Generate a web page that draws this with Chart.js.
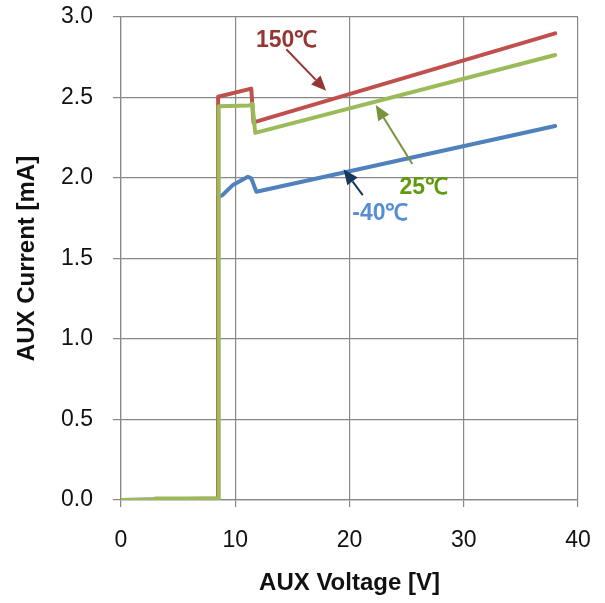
<!DOCTYPE html>
<html>
<head>
<meta charset="utf-8">
<script src="https://cdn.jsdelivr.net/npm/chart.js@4"></script>
<style>
  html, body { margin: 0; padding: 0; background: #fff; }
  canvas { display: block; }
</style>
</head>
<body>
<canvas id="auxChart" width="605" height="603"></canvas>
<script>
// series (AUX voltage [V] -> AUX current [mA])
const voltage150 = [0, 8.5, 8.5, 11.4, 11.6, 38];
const current150 = [0, 0.01, 2.505, 2.555, 2.345, 2.898];

const voltage25 = [0, 3, 3, 8.55, 8.55, 11.2, 11.5, 11.75, 38];
const current25 = [0, 0, 0.01, 0.01, 2.445, 2.45, 2.46, 2.28, 2.764];

const voltageM40 = [0, 8.5, 8.5, 8.9, 9.8, 11.1, 11.4, 11.85, 38];
const currentM40 = [0, 0.005, 1.88, 1.895, 1.957, 2.008, 1.998, 1.915, 2.323];

const xTicks = [0, 10, 20, 30, 40];
const yTicks = [0, 0.5, 1.0, 1.5, 2.0, 2.5, 3.0];

// callout labels + arrows, in data units
const calloutText  = ['150\u2103', '25\u2103', '-40\u2103'];
const calloutX     = [14.5, 26.5, 22.7];
const calloutY     = [2.85, 1.94, 1.776];
const arrowFromX   = [14.47, 25.5, 21.16];
const arrowFromY   = [2.80, 2.087, 1.894];
const arrowToX     = [17.96, 22.3, 19.48];
const arrowToY     = [2.542, 2.453, 2.054];

const toPoints = (xs, ys) => xs.map((x, i) => ({ x, y: ys[i] }));

const FONT = '"Liberation Sans", Arial, sans-serif';
const TXT_COLORS   = ['#963634', '#5f9a0f', '#558ed5'];
const ARROW_COLORS = ['#963634', '#77933c', '#17375e'];

const callouts = {
  id: 'callouts',
  afterDatasetsDraw(chart) {
    const { ctx, scales: { x, y } } = chart;
    ctx.save();
    calloutText.forEach((t, i) => {
      // arrow
      const x0 = x.getPixelForValue(arrowFromX[i]), y0 = y.getPixelForValue(arrowFromY[i]);
      const x1 = x.getPixelForValue(arrowToX[i]),   y1 = y.getPixelForValue(arrowToY[i]);
      const ang = Math.atan2(y1 - y0, x1 - x0);
      const headLen = 15, headW = 6.5;
      const bx = x1 - headLen * Math.cos(ang), by = y1 - headLen * Math.sin(ang);
      ctx.strokeStyle = ARROW_COLORS[i];
      ctx.fillStyle = ARROW_COLORS[i];
      ctx.lineWidth = 2;
      ctx.beginPath();
      ctx.moveTo(x0, y0);
      ctx.lineTo(bx, by);
      ctx.stroke();
      ctx.beginPath();
      ctx.moveTo(x1, y1);
      ctx.lineTo(bx + headW * Math.sin(ang), by - headW * Math.cos(ang));
      ctx.lineTo(bx - headW * Math.sin(ang), by + headW * Math.cos(ang));
      ctx.closePath();
      ctx.fill();
      // text
      ctx.font = 'bold 23px ' + FONT;
      ctx.fillStyle = TXT_COLORS[i];
      ctx.textAlign = 'center';
      ctx.textBaseline = 'middle';
      ctx.fillText(t, x.getPixelForValue(calloutX[i]), y.getPixelForValue(calloutY[i]));
    });
    ctx.restore();
  }
};

const lineStyle = {
  borderWidth: 4,
  pointRadius: 0,
  tension: 0,
  borderCapStyle: 'round',
  borderJoinStyle: 'round',
  fill: false
};

new Chart(document.getElementById('auxChart').getContext('2d'), {
  type: 'line',
  data: {
    datasets: [
      { label: '25\u2103',  data: toPoints(voltage25, current25),   borderColor: '#9bbb59', order: 0, ...lineStyle },
      { label: '150\u2103', data: toPoints(voltage150, current150), borderColor: '#c0504d', order: 1, ...lineStyle },
      { label: '-40\u2103', data: toPoints(voltageM40, currentM40), borderColor: '#4f81bd', order: 2, ...lineStyle }
    ]
  },
  options: {
    responsive: false,
    animation: false,
    layout: { padding: { top: 17, right: 27, left: 0, bottom: 0 } },
    plugins: {
      legend: { display: false },
      tooltip: { enabled: false }
    },
    scales: {
      x: {
        type: 'linear',
        min: 0,
        max: 40,
        afterBuildTicks: s => { s.ticks = xTicks.map(v => ({ value: v })); },
        // fixed axis box; drop the label overhang so the plot keeps its edges
        afterFit: s => { s.height = 103; s.paddingLeft = 0; s.paddingRight = 0; },
        grid: { color: '#878787', lineWidth: 1.2, tickLength: 7, drawTicks: true },
        border: { color: '#878787', width: 1.2 },
        ticks: {
          color: '#111',
          font: { family: FONT, size: 23 },
          padding: 20,
          maxRotation: 0
        },
        title: {
          display: true,
          text: 'AUX Voltage [V]',
          color: '#111',
          font: { family: FONT, size: 24, weight: 'bold', lineHeight: 1.2 },
          padding: { top: 0, bottom: 5 }
        }
      },
      y: {
        min: 0,
        max: 3,
        afterBuildTicks: s => { s.ticks = yTicks.map(v => ({ value: v })); },
        afterFit: s => { s.width = 121; s.paddingTop = 0; s.paddingBottom = 0; },
        grid: { color: '#878787', lineWidth: 1.2, tickLength: 8 },
        border: { color: '#878787', width: 1.2 },
        ticks: {
          color: '#111',
          font: { family: FONT, size: 23 },
          padding: 20,
          callback: v => v.toFixed(1)
        },
        title: {
          display: true,
          text: 'AUX Current [mA]',
          color: '#111',
          font: { family: FONT, size: 24, weight: 'bold' },
          padding: { top: 13, bottom: 0 }
        }
      }
    }
  },
  plugins: [callouts]
});
</script>
</body>
</html>
